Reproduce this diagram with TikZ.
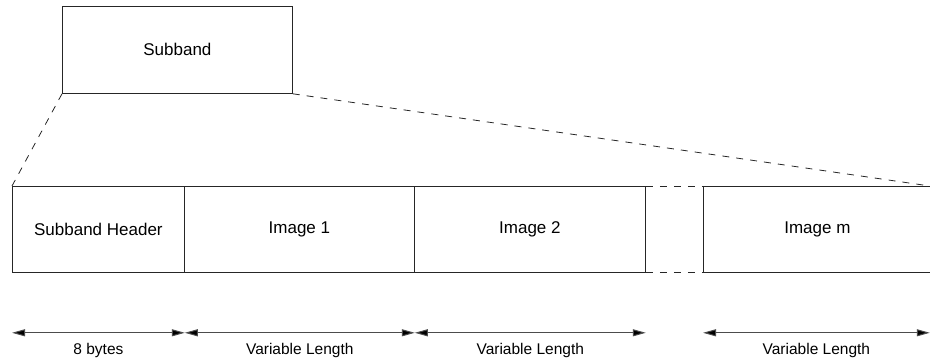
\documentclass[tikz,border=0pt]{standalone}
\usepackage{fontspec}
\setmainfont{Liberation Sans}
\usetikzlibrary{arrows.meta,calc}
\begin{document}
\begin{tikzpicture}[x=1pt,y=-1pt,
  box/.style={draw=black!85, line width=0.8pt, inner sep=0pt, anchor=north west,
    minimum height=86pt, font=\fontsize{17}{20}\selectfont},
  gapline/.style={draw=black!85, line width=0.8pt, dash pattern=on 7pt off 7pt},
  tip/.tip={Triangle[length=13pt,width=7pt,fill=black]},
  dimline/.style={draw=black!70, line width=1pt, tip-tip},
  lbl/.style={below=6pt, inner sep=4pt, font=\fontsize{15.5}{18}\selectfont}]
\useasboundingbox (0,0) rectangle (930,363);
% top box
\node[box, minimum width=230pt, minimum height=87pt] (sub) at (62,6) {Subband};
% row of fields
\node[box, minimum width=172pt] (hdr) at (12,186) {Subband Header};
\node[box, minimum width=230pt] (im1) at (184,186) {Image 1};
\node[box, minimum width=231pt] (im2) at (414,186) {Image 2};
\node[box, minimum width=228pt] (imm) at (703,186) {Image m};
% zoom lines
\draw[gapline] (sub.south west) -- (hdr.north west);
\draw[gapline] (sub.south east) -- ($(imm.north east)+(-2,0)$);
% gap between Image 2 and Image m
\draw[gapline] (im2.north east) -- (imm.north west);
\draw[gapline] (im2.south east) -- (imm.south west);
% dimension arrows
\coordinate (a0) at ($(hdr.south west)+(0,60)$);
\coordinate (a1) at ($(hdr.south east)+(0,60)$);
\coordinate (a2) at ($(im1.south east)+(0,60)$);
\coordinate (a3) at ($(im2.south east)+(0,60)$);
\coordinate (a4) at ($(imm.south west)+(0,60)$);
\coordinate (a5) at ($(imm.south east)+(-2,60)$);
\draw[dimline] (a0) -- node[lbl] (t0) {8 bytes} (a1);
\draw[dimline] (a1) -- node[lbl] (t1) {Variable Length} (a2);
\draw[dimline] (a2) -- node[lbl] (t2) {Variable Length} (a3);
\draw[dimline] (a4) -- node[lbl] (t3) {Variable Length} (a5);
\end{tikzpicture}
\end{document}
